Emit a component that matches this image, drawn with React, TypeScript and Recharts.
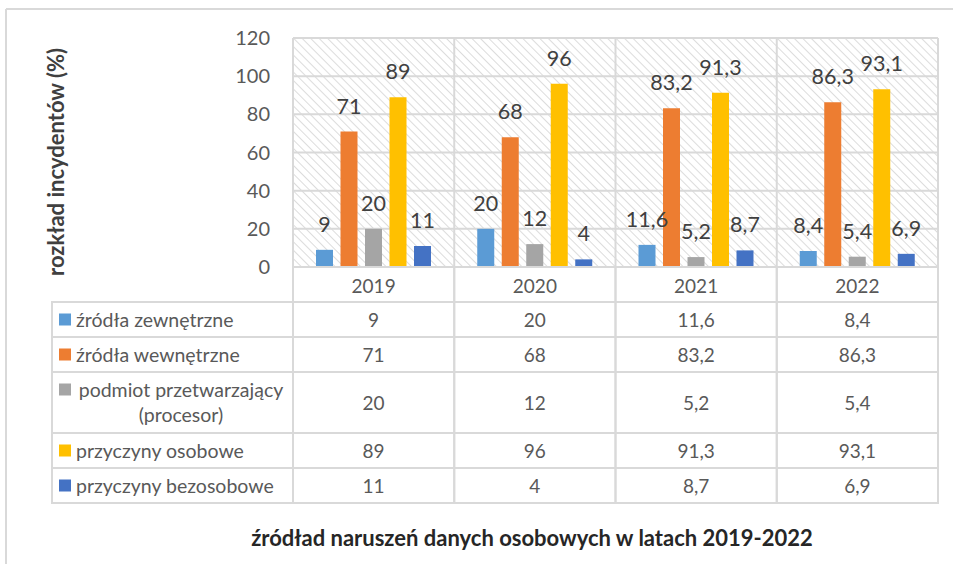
import React from 'react';
import { BarChart, Bar, XAxis, YAxis, CartesianGrid, LabelList } from 'recharts';

const years = ['2019', '2020', '2021', '2022'];
const zrodlaZewnetrzne = [9, 20, 11.6, 8.4];
const zrodlaWewnetrzne = [71, 68, 83.2, 86.3];
const podmiotPrzetwarzajacy = [20, 12, 5.2, 5.4];
const przyczynyOsobowe = [89, 96, 91.3, 93.1];
const przyczynyBezosobowe = [11, 4, 8.7, 6.9];
const yTicks = [0, 20, 40, 60, 80, 100, 120];

const series = [
    { key: 'zew', name: ['źródła zewnętrzne'], values: zrodlaZewnetrzne, color: '#5B9BD5' },
    { key: 'wew', name: ['źródła wewnętrzne'], values: zrodlaWewnetrzne, color: '#ED7D31' },
    { key: 'pod', name: ['podmiot przetwarzający', '(procesor)'], values: podmiotPrzetwarzajacy, color: '#A5A5A5' },
    { key: 'oso', name: ['przyczyny osobowe'], values: przyczynyOsobowe, color: '#FFC000' },
    { key: 'bez', name: ['przyczyny bezosobowe'], values: przyczynyBezosobowe, color: '#4472C4' },
];

const data = years.map((year, i) => {
    const row: Record<string, string | number> = { year };
    series.forEach(s => { row[s.key] = s.values[i]; });
    return row;
});

// layout (px)
const W = 953;
const H = 564;
const PLOT_LEFT = 293;
const PLOT_RIGHT = 938;
const PLOT_TOP = 38;
const AXIS_Y = 267;
const BAND = (PLOT_RIGHT - PLOT_LEFT) / years.length;
const TABLE_LEFT = 52;
const YEAR_ROW_BOTTOM = 302;
const rowBounds = [302, 337, 372, 433, 468, 503];

const FONT = 'Lato, "Noto Sans", sans-serif';
const GRID = '#d9d9d9';
const TEXT = '#595959';

const fmt = (v: number) => String(v).replace('.', ',');

function TableColumn(props: any) {
    const { x, payload, index } = props;
    const left = x - BAND / 2;
    return (
        <g>
            <rect x={left} y={AXIS_Y} width={BAND} height={YEAR_ROW_BOTTOM - AXIS_Y} fill="none" stroke={GRID} strokeWidth={2} />
            <text x={x} y={AXIS_Y + 18} textAnchor="middle" dominantBaseline="central" fontSize={19} fill={TEXT} fontFamily={FONT}>
                {payload.value}
            </text>
            {series.map((s, r) => {
                const top = rowBounds[r];
                const bottom = rowBounds[r + 1];
                return (
                    <g key={s.key}>
                        <rect x={left} y={top} width={BAND} height={bottom - top} fill="none" stroke={GRID} strokeWidth={2} />
                        <text x={x} y={(top + bottom) / 2} textAnchor="middle" dominantBaseline="central" fontSize={19} fill={TEXT} fontFamily={FONT}>
                            {fmt(s.values[index])}
                        </text>
                    </g>
                );
            })}
        </g>
    );
}

function LegendColumn() {
    return (
        <g>
            {series.map((s, r) => {
                const top = rowBounds[r];
                const bottom = rowBounds[r + 1];
                const mid = (top + bottom) / 2;
                const twoLines = s.name.length > 1;
                const firstY = twoLines ? mid - 13 : mid;
                return (
                    <g key={s.key}>
                        <rect x={TABLE_LEFT} y={top} width={PLOT_LEFT - TABLE_LEFT} height={bottom - top} fill="none" stroke={GRID} strokeWidth={2} />
                        <rect x={59} y={firstY - 6} width={12} height={12} fill={s.color} />
                        {s.name.map((line, li) => (
                            <text
                                key={li}
                                x={twoLines ? 181 : 76}
                                y={firstY + li * 25}
                                textAnchor={twoLines ? 'middle' : 'start'}
                                dominantBaseline="central"
                                fontSize={19.5}
                                fill={TEXT}
                                fontFamily={FONT}
                            >
                                {line}
                            </text>
                        ))}
                    </g>
                );
            })}
        </g>
    );
}

export default function App() {
    return (
        <div style={{ position: 'relative', width: W, height: H, background: '#fff', fontFamily: FONT }}>
            <style>{'body{margin:0}'}</style>
            <BarChart
                width={W}
                height={H}
                data={data}
                margin={{ top: PLOT_TOP, right: W - PLOT_RIGHT, left: PLOT_LEFT - 60, bottom: 0 }}
                barSize={17}
                barGap={7.5}
            >
                <defs>
                    <pattern id="hatch" width="6" height="6" patternUnits="userSpaceOnUse" patternTransform="rotate(-45)">
                        <rect width="6" height="6" fill="#ffffff" />
                        <line x1="0" y1="0" x2="0" y2="6" stroke="#dcdcdc" strokeWidth={2} />
                    </pattern>
                </defs>
                <CartesianGrid
                    stroke={GRID}
                    strokeWidth={2}
                    fill="url(#hatch)"
                    fillOpacity={1}
                    verticalCoordinatesGenerator={({ offset }: any) =>
                        years.map((_, i) => offset.left + (i * offset.width) / years.length).concat(offset.left + offset.width)
                    }
                />
                <YAxis
                    domain={[0, 120]}
                    ticks={yTicks}
                    width={60}
                    axisLine={false}
                    tickLine={false}
                    tickMargin={17}
                    tick={{ fill: TEXT, fontSize: 20, fontFamily: FONT }}
                />
                <XAxis
                    dataKey="year"
                    height={H - AXIS_Y}
                    interval={0}
                    tickLine={false}
                    axisLine={{ stroke: GRID, strokeWidth: 2 }}
                    tick={(p: any) => <TableColumn {...p} />}
                />
                {series.map(s => (
                    <Bar key={s.key} dataKey={s.key} name={s.name.join(' ')} fill={s.color} isAnimationActive={false}>
                        <LabelList
                            dataKey={s.key}
                            position="top"
                            offset={18}
                            formatter={(v: any) => fmt(v)}
                            style={{ fill: '#404040', fontSize: 21.5, fontFamily: FONT }}
                        />
                    </Bar>
                ))}
            </BarChart>
            <svg width={W} height={H} style={{ position: 'absolute', left: 0, top: 0, pointerEvents: 'none' }}>
                <line x1={6} y1={9} x2={W} y2={9} stroke={GRID} strokeWidth={2} />
                <line x1={6} y1={9} x2={6} y2={H} stroke={GRID} strokeWidth={2} />
                <LegendColumn />
                <text
                    transform="translate(55,162) rotate(-90)"
                    textAnchor="middle"
                    dominantBaseline="central"
                    fontSize={22}
                    fontWeight="bold"
                    fill="#404040"
                    fontFamily={FONT}
                >
                    rozkład incydentów (%)
                </text>
                <text x={532} y={537} textAnchor="middle" dominantBaseline="central" fontSize={22} fontWeight="bold" fill="#262626" fontFamily={FONT}>
                    źródład naruszeń danych osobowych w latach 2019-2022
                </text>
            </svg>
        </div>
    );
}
